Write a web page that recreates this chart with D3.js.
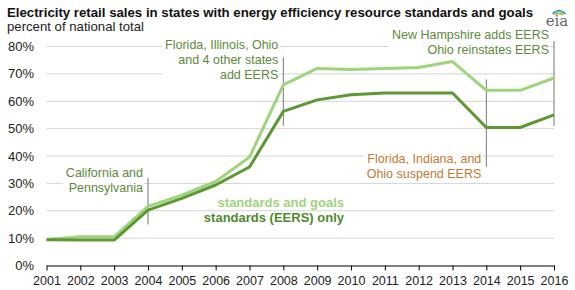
<!DOCTYPE html>
<html>
<head>
<meta charset="utf-8">
<script src="https://cdn.jsdelivr.net/npm/d3@7"></script>
<style>
  body { margin: 0; background: #fff; }
  svg { display: block; font-family: Arial, "Liberation Sans", sans-serif; }
</style>
</head>
<body>
<div id="chart"></div>
<script>
// data
var years = [2001, 2002, 2003, 2004, 2005, 2006, 2007, 2008, 2009, 2010, 2011, 2012, 2013, 2014, 2015, 2016];
var goals = [9.5, 10.5, 10.5, 21.6, 25.7, 30.7, 39.6, 66, 72, 71.6, 72, 72.3, 74.5, 64, 64, 68.5];
var eersOnly = [9.4, 9.3, 9.3, 20.2, 24.5, 29.4, 36, 56.3, 60.5, 62.4, 63, 63, 63, 50.4, 50.4, 55];
var yTicks = [0, 10, 20, 30, 40, 50, 60, 70, 80];

var notes = [
  { year: 2004, lines: ['California and', 'Pennsylvania'], from: 32, to: 15, color: '#5b8a3c' },
  { year: 2008, lines: ['Florida, Illinois, Ohio', 'and 4 other states', 'add EERS'], from: 76, to: 51, color: '#5b8a3c' },
  { year: 2014, lines: ['Florida, Indiana, and', 'Ohio suspend EERS'], from: 68, to: 36, color: '#c27a34' },
  { year: 2016, lines: ['New Hampshire adds EERS', 'Ohio reinstates EERS'], from: 82, to: 51, color: '#5b8a3c' }
];

var W = 575, H = 290;
var lightGreen = '#9ed47c', darkGreen = '#5d9732';

var svg = d3.select('#chart').append('svg')
  .attr('width', W)
  .attr('height', H);

var x = d3.scaleLinear().domain([2001, 2016]).range([46.5, 554]);
var y = d3.scaleLinear().domain([0, 80]).range([265.5, 46.5]);

// shrink font until the text is as wide as in the reference
function fitWidth(sel, w) {
  var fs = parseFloat(sel.attr('font-size'));
  var len = sel.node().getComputedTextLength();
  sel.attr('font-size', (fs * w / len).toFixed(2));
}

// title
svg.append('text')
  .attr('x', 7).attr('y', 16.5)
  .attr('font-size', 14).attr('font-weight', 'bold').attr('fill', '#111')
  .text('Electricity retail sales in states with energy efficiency resource standards and goals')
  .call(fitWidth, 526);
svg.append('text')
  .attr('x', 7).attr('y', 31)
  .attr('font-size', 13).attr('fill', '#222')
  .text('percent of national total')
  .call(fitWidth, 137);

// eia logo
var logo = svg.append('g').attr('transform', 'translate(557,17)');
[['#1f77b4', 9], ['#3aa0c8', 7.5], ['#7cc242', 6], ['#f2c530', 4.5]].forEach(function(a, i) {
  logo.append('path')
    .attr('d', d3.arc()({ innerRadius: a[1] - 1.1, outerRadius: a[1], startAngle: -0.9, endAngle: 0.9 }))
    .attr('transform', 'translate(2,' + (2 - i * 0.3) + ')')
    .attr('fill', a[0]);
});
svg.append('text')
  .attr('x', 557).attr('y', 26)
  .attr('text-anchor', 'middle')
  .attr('font-family', '"DejaVu Serif", "Liberation Serif", serif')
  .attr('font-size', 15).attr('fill', '#666')
  .text('eia');

// gridlines
svg.append('g').selectAll('line')
  .data(yTicks.filter(function(d) { return d > 0; }))
  .enter().append('line')
  .attr('x1', x(2001)).attr('x2', x(2016))
  .attr('y1', function(d) { return y(d); })
  .attr('y2', function(d) { return y(d); })
  .attr('stroke', '#d4d4d4').attr('stroke-width', 1);

// y labels
svg.append('g').selectAll('text')
  .data(yTicks)
  .enter().append('text')
  .attr('x', 34)
  .attr('y', function(d) { return y(d); })
  .attr('dy', '0.35em')
  .attr('text-anchor', 'end')
  .attr('font-size', 13).attr('fill', '#222')
  .text(function(d) { return d + '%'; });

// x axis
var xAxis = svg.append('g')
  .attr('transform', 'translate(0,' + y(0) + ')')
  .call(d3.axisBottom(x).tickValues(years).tickFormat(d3.format('d')).tickSize(5).tickSizeOuter(0));
xAxis.select('.domain').attr('stroke', '#000');
xAxis.selectAll('.tick line').attr('stroke', '#000');
xAxis.selectAll('text').attr('font-size', 12.5).attr('fill', '#222')
  .attr('font-family', 'Arial, "Liberation Sans", sans-serif').attr('dy', '0.9em');

// annotations: white text background hides the grid
var textPos = { 2004: 177, 2008: 49, 2014: 163, 2016: 39 };
notes.forEach(function(n) {
  var g = svg.append('g');
  var tx = x(n.year) - 5;
  var txt = g.append('text')
    .attr('text-anchor', 'end')
    .attr('font-size', 12.5)
    .attr('fill', n.color)
    .attr('transform', 'translate(0,' + textPos[n.year] + ')');
  n.lines.forEach(function(l, i) {
    txt.append('tspan').attr('x', tx).attr('y', 0).attr('dy', (i * 15) + 'px').text(l);
  });
  var bb = txt.node().getBBox();
  g.insert('rect', 'text')
    .attr('x', bb.x - 3).attr('y', bb.y + textPos[n.year] - 1)
    .attr('width', bb.width + 4).attr('height', bb.height + 2)
    .attr('fill', '#fff');
  svg.append('line')
    .attr('x1', x(n.year)).attr('x2', x(n.year))
    .attr('y1', y(n.from)).attr('y2', y(n.to))
    .attr('stroke', '#777').attr('stroke-width', 1);
});

// series lines
var line = d3.line()
  .x(function(d, i) { return x(years[i]); })
  .y(function(d) { return y(d); });

svg.append('path')
  .datum(goals)
  .attr('d', line)
  .attr('fill', 'none')
  .attr('stroke', lightGreen)
  .attr('stroke-width', 3)
  .attr('stroke-linejoin', 'round');

svg.append('path')
  .datum(eersOnly)
  .attr('d', line)
  .attr('fill', 'none')
  .attr('stroke', darkGreen)
  .attr('stroke-width', 3)
  .attr('stroke-linejoin', 'round');

// legend labels
svg.append('text')
  .attr('x', 344).attr('y', 207)
  .attr('text-anchor', 'end')
  .attr('font-size', 13).attr('font-weight', 'bold').attr('fill', lightGreen)
  .text('standards and goals');
svg.append('text')
  .attr('x', 344).attr('y', 222)
  .attr('text-anchor', 'end')
  .attr('font-size', 13).attr('font-weight', 'bold').attr('fill', '#4f8a2a')
  .text('standards (EERS) only');
</script>
</body>
</html>
